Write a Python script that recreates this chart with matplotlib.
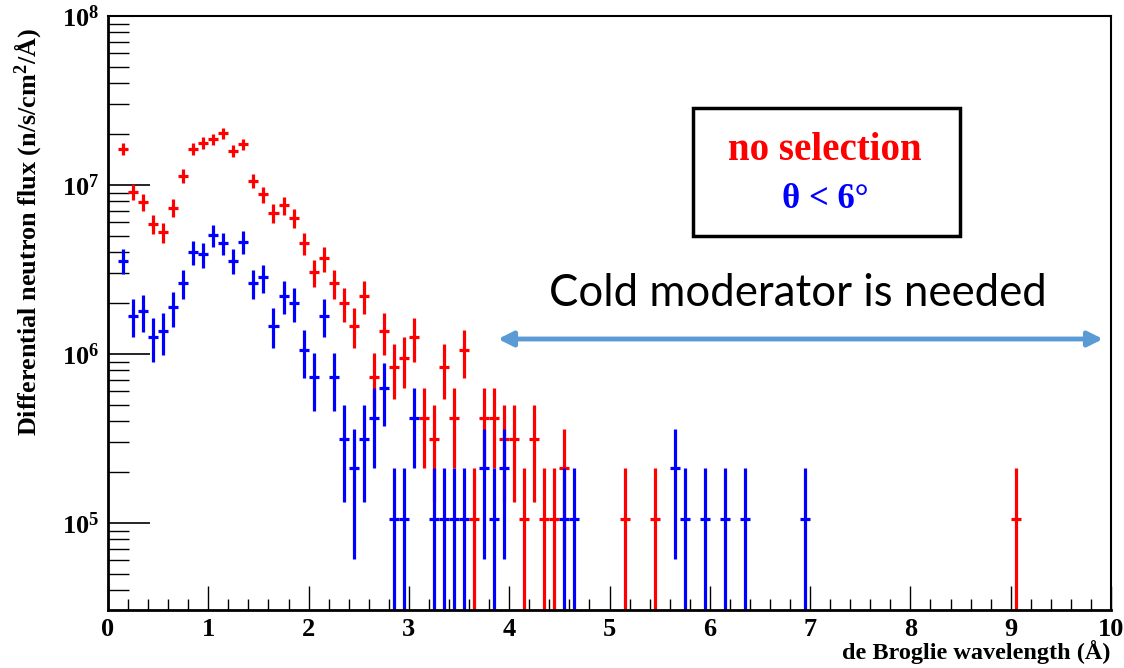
import numpy as np
import matplotlib
matplotlib.use("Agg")
from matplotlib import pyplot as plt
from matplotlib.patches import Rectangle
from matplotlib.ticker import FixedLocator, MultipleLocator, NullFormatter, FixedFormatter

plt.rcParams["mathtext.fontset"] = "custom"
plt.rcParams["mathtext.rm"] = "Liberation Serif:bold"
plt.rcParams["mathtext.bf"] = "Liberation Serif:bold"
plt.rcParams["mathtext.it"] = "Liberation Serif:bold:italic"

# flux of one simulated neutron per 0.1 A bin
flux_per_count = 1.05e5

bin_width = 0.1
red_centers = [0.15, 0.25, 0.35, 0.45, 0.55, 0.65, 0.75, 0.85, 0.95, 1.05,
               1.15, 1.25, 1.35, 1.45, 1.55, 1.65, 1.75, 1.85, 1.95, 2.05,
               2.15, 2.25, 2.35, 2.45, 2.55, 2.65, 2.75, 2.85, 2.95, 3.05,
               3.15, 3.25, 3.35, 3.45, 3.55, 3.65, 3.75, 3.85, 3.95, 4.05,
               4.15, 4.25, 4.35, 4.45, 4.55, 5.15, 5.45, 9.05]
red_counts = [156, 87, 75, 56, 50, 70, 108, 156, 169, 178,
              193, 151, 166, 101, 84, 65, 72, 61, 43, 29,
              35, 25, 19, 14, 21, 7, 13, 8, 9, 12,
              4, 3, 8, 4, 10, 1, 4, 4, 3, 3,
              1, 3, 1, 1, 2, 1, 1, 1]

blue_centers = [0.15, 0.25, 0.35, 0.45, 0.55, 0.65, 0.75, 0.85, 0.95, 1.05,
                1.15, 1.25, 1.35, 1.45, 1.55, 1.65, 1.75, 1.85, 1.95, 2.05,
                2.15, 2.25, 2.35, 2.45, 2.55, 2.65, 2.75, 2.85, 2.95, 3.05,
                3.25, 3.35, 3.45, 3.55, 3.75, 3.85, 3.95, 4.55, 4.65, 5.65,
                5.75, 5.95, 6.15, 6.35, 6.95]
blue_counts = [34, 16, 17, 12, 13, 18, 25, 38, 37, 48,
               43, 34, 44, 25, 27, 14, 21, 19, 10, 7,
               16, 7, 3, 2, 3, 4, 6, 1, 1, 4,
               1, 1, 1, 1, 2, 1, 2, 1, 1, 2,
               1, 1, 1, 1, 1]

x_ticks = [0, 1, 2, 3, 4, 5, 6, 7, 8, 9, 10]
y_ticks = [1e5, 1e6, 1e7, 1e8]
y_tick_labels = [r"$\mathbf{10^{5}}$", r"$\mathbf{10^{6}}$", r"$\mathbf{10^{7}}$", r"$\mathbf{10^{8}}$"]

serif = "Liberation Serif"

fig = plt.figure(figsize=(11.24, 6.68), dpi=100)
ax = fig.add_axes([108 / 1124, 1 - 610 / 668, 1003 / 1124, 594 / 668])

for centers, counts, col in [(red_centers, red_counts, "#ff0000"),
                             (blue_centers, blue_counts, "#0000ff")]:
    n = np.array(counts, dtype=float)
    y = n * flux_per_count
    err = np.sqrt(n) * flux_per_count
    lower = np.minimum(err, y - 1e3)
    ax.errorbar(centers, y, yerr=[lower, err], xerr=bin_width / 2, fmt="none",
                ecolor=col, elinewidth=2.3, capsize=0)

ax.set_yscale("log")
ax.set_xlim(0, 10)
ax.set_ylim(3.05e4, 1e8)

ax.xaxis.set_major_locator(FixedLocator(x_ticks))
ax.xaxis.set_major_formatter(FixedFormatter([str(t) for t in x_ticks]))
ax.xaxis.set_minor_locator(MultipleLocator(0.2))
ax.yaxis.set_major_locator(FixedLocator(y_ticks))
ax.yaxis.set_major_formatter(FixedFormatter(y_tick_labels))
ax.yaxis.set_minor_locator(FixedLocator([m * 10 ** e for e in range(4, 8) for m in range(2, 10)]))
ax.yaxis.set_minor_formatter(NullFormatter())

ax.tick_params(axis="y", which="major", direction="in", length=30, width=1.2, labelsize=19, pad=6)
ax.tick_params(axis="y", which="minor", direction="in", length=15, width=1.0)
ax.tick_params(axis="x", which="major", direction="in", length=17, width=1.0, labelsize=19, pad=6)
ax.tick_params(axis="x", which="minor", direction="in", length=8, width=1.0)
for lab in ax.get_xticklabels() + ax.get_yticklabels():
    lab.set_fontfamily(serif)
    lab.set_fontweight("bold")
for s in ax.spines.values():
    s.set_linewidth(1.5)
ax.spines["left"].set_linewidth(2)
ax.spines["bottom"].set_linewidth(2)

fig.text(28 / 1124, 1 - 28 / 668, "Differential neutron flux (n/s/cm$^{2}$/Å)",
         rotation=90, ha="center", va="top", fontsize=18.8, fontfamily=serif,
         fontweight="bold")
fig.text(1110 / 1124, 1 - 664 / 668, "de Broglie wavelength (Å)", ha="right",
         va="bottom", fontsize=17.5, fontfamily=serif, fontweight="bold")

# label box
fig.patches.append(Rectangle((693 / 1124, 1 - 236 / 668), 267 / 1124, 128 / 668,
                             transform=fig.transFigure, facecolor="white",
                             edgecolor="black", linewidth=2.5, zorder=5))
fig.text(825 / 1124, 1 - 150 / 668, "no selection", ha="center", va="center",
         color="#ff0000", fontsize=28, fontfamily=serif, fontweight="bold", zorder=6)
fig.text(825 / 1124, 1 - 200 / 668, "θ < 6°", ha="center", va="center",
         color="#0000ff", fontsize=25, fontfamily=serif, fontweight="bold", zorder=6)

fig.text(798 / 1124, 1 - 293 / 668, "Cold moderator is needed", ha="center",
         va="center", fontsize=31.5, fontfamily="Lato")
ax.annotate("", xy=(1103 / 1124, 1 - 339 / 668), xytext=(498 / 1124, 1 - 339 / 668),
            xycoords="figure fraction", textcoords="figure fraction",
            arrowprops=dict(arrowstyle="<|-|>", color="#5b9bd5", lw=3.5,
                            mutation_scale=22, shrinkA=0, shrinkB=0))

plt.savefig("out.png", dpi=100)
